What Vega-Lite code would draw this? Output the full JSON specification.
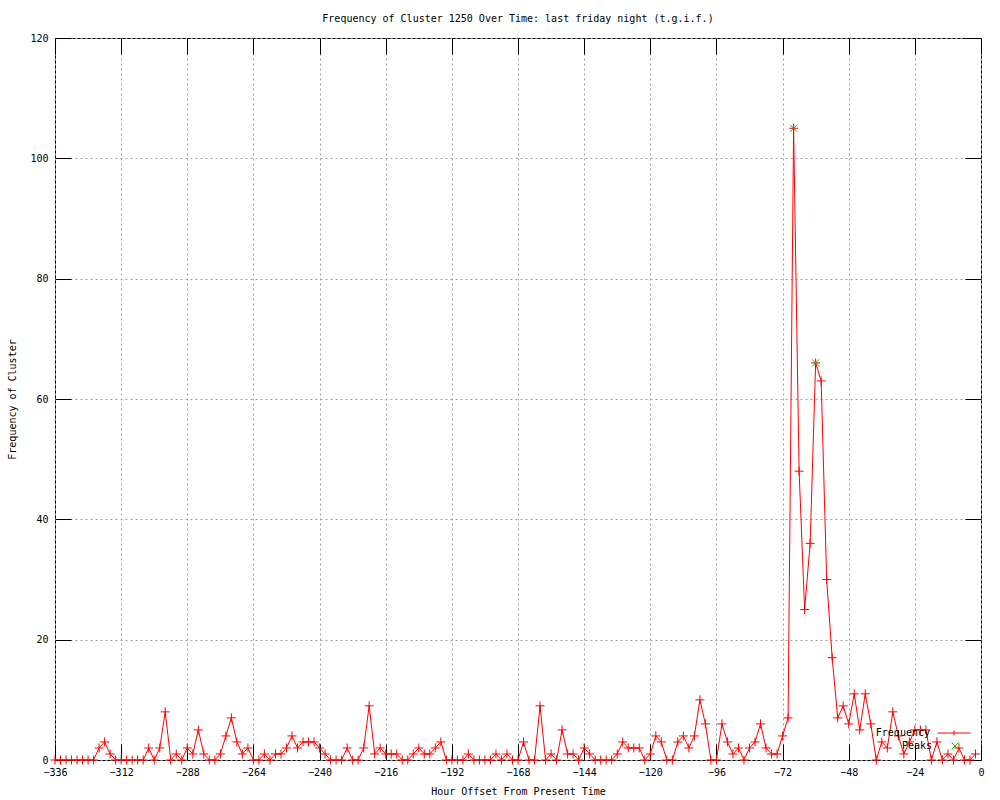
{
  "$schema": "https://vega.github.io/schema/vega-lite/v6.json",
  "autosize": "none",
  "width": 926,
  "height": 722,
  "padding": {"left": 55, "top": 38, "right": 19, "bottom": 40},
  "background": "white",
  "title": {
    "text": "Frequency of Cluster 1250 Over Time: last friday night (t.g.i.f.)",
    "font": "DejaVu Sans Mono",
    "fontSize": 10,
    "fontWeight": "normal",
    "color": "black",
    "anchor": "middle",
    "offset": 9
  },
  "config": {
    "view": {"stroke": "black", "strokeWidth": 1},
    "axis": {
      "labelFont": "DejaVu Sans Mono",
      "labelFontSize": 10,
      "labelColor": "black",
      "titleFont": "DejaVu Sans Mono",
      "titleFontSize": 10,
      "titleFontWeight": "normal",
      "titleColor": "black",
      "tickColor": "black",
      "domain": false,
      "gridColor": "#a0a0a0",
      "gridDash": [2, 3],
      "gridWidth": 1,
      "gridOpacity": 1
    }
  },
  "datasets": {
    "freq": [
      {"hour": -336, "freq": 0}, {"hour": -334, "freq": 0}, {"hour": -332, "freq": 0}, {"hour": -330, "freq": 0},
      {"hour": -328, "freq": 0}, {"hour": -326, "freq": 0}, {"hour": -324, "freq": 0}, {"hour": -322, "freq": 0},
      {"hour": -320, "freq": 2}, {"hour": -318, "freq": 3}, {"hour": -316, "freq": 1}, {"hour": -314, "freq": 0},
      {"hour": -312, "freq": 0}, {"hour": -310, "freq": 0}, {"hour": -308, "freq": 0}, {"hour": -306, "freq": 0},
      {"hour": -304, "freq": 0}, {"hour": -302, "freq": 2}, {"hour": -300, "freq": 0}, {"hour": -298, "freq": 2},
      {"hour": -296, "freq": 8}, {"hour": -294, "freq": 0}, {"hour": -292, "freq": 1}, {"hour": -290, "freq": 0},
      {"hour": -288, "freq": 2}, {"hour": -286, "freq": 1}, {"hour": -284, "freq": 5}, {"hour": -282, "freq": 1},
      {"hour": -280, "freq": 0}, {"hour": -278, "freq": 0}, {"hour": -276, "freq": 1}, {"hour": -274, "freq": 4},
      {"hour": -272, "freq": 7}, {"hour": -270, "freq": 3}, {"hour": -268, "freq": 1}, {"hour": -266, "freq": 2},
      {"hour": -264, "freq": 0}, {"hour": -262, "freq": 0}, {"hour": -260, "freq": 1}, {"hour": -258, "freq": 0},
      {"hour": -256, "freq": 1}, {"hour": -254, "freq": 1}, {"hour": -252, "freq": 2}, {"hour": -250, "freq": 4},
      {"hour": -248, "freq": 2}, {"hour": -246, "freq": 3}, {"hour": -244, "freq": 3}, {"hour": -242, "freq": 3},
      {"hour": -240, "freq": 2}, {"hour": -238, "freq": 1}, {"hour": -236, "freq": 0}, {"hour": -234, "freq": 0},
      {"hour": -232, "freq": 0}, {"hour": -230, "freq": 2}, {"hour": -228, "freq": 0}, {"hour": -226, "freq": 0},
      {"hour": -224, "freq": 2}, {"hour": -222, "freq": 9}, {"hour": -220, "freq": 1}, {"hour": -218, "freq": 2},
      {"hour": -216, "freq": 1}, {"hour": -214, "freq": 1}, {"hour": -212, "freq": 1}, {"hour": -210, "freq": 0},
      {"hour": -208, "freq": 0}, {"hour": -206, "freq": 1}, {"hour": -204, "freq": 2}, {"hour": -202, "freq": 1},
      {"hour": -200, "freq": 1}, {"hour": -198, "freq": 2}, {"hour": -196, "freq": 3}, {"hour": -194, "freq": 0},
      {"hour": -192, "freq": 0}, {"hour": -190, "freq": 0}, {"hour": -188, "freq": 0}, {"hour": -186, "freq": 1},
      {"hour": -184, "freq": 0}, {"hour": -182, "freq": 0}, {"hour": -180, "freq": 0}, {"hour": -178, "freq": 0},
      {"hour": -176, "freq": 1}, {"hour": -174, "freq": 0}, {"hour": -172, "freq": 1}, {"hour": -170, "freq": 0},
      {"hour": -168, "freq": 0}, {"hour": -166, "freq": 3}, {"hour": -164, "freq": 0}, {"hour": -162, "freq": 0},
      {"hour": -160, "freq": 9}, {"hour": -158, "freq": 0}, {"hour": -156, "freq": 1}, {"hour": -154, "freq": 0},
      {"hour": -152, "freq": 5}, {"hour": -150, "freq": 1}, {"hour": -148, "freq": 1}, {"hour": -146, "freq": 0},
      {"hour": -144, "freq": 2}, {"hour": -142, "freq": 1}, {"hour": -140, "freq": 0}, {"hour": -138, "freq": 0},
      {"hour": -136, "freq": 0}, {"hour": -134, "freq": 0}, {"hour": -132, "freq": 1}, {"hour": -130, "freq": 3},
      {"hour": -128, "freq": 2}, {"hour": -126, "freq": 2}, {"hour": -124, "freq": 2}, {"hour": -122, "freq": 0},
      {"hour": -120, "freq": 1}, {"hour": -118, "freq": 4}, {"hour": -116, "freq": 3}, {"hour": -114, "freq": 0},
      {"hour": -112, "freq": 0}, {"hour": -110, "freq": 3}, {"hour": -108, "freq": 4}, {"hour": -106, "freq": 2},
      {"hour": -104, "freq": 4}, {"hour": -102, "freq": 10}, {"hour": -100, "freq": 6}, {"hour": -98, "freq": 0},
      {"hour": -96, "freq": 0}, {"hour": -94, "freq": 6}, {"hour": -92, "freq": 3}, {"hour": -90, "freq": 1},
      {"hour": -88, "freq": 2}, {"hour": -86, "freq": 0}, {"hour": -84, "freq": 2}, {"hour": -82, "freq": 3},
      {"hour": -80, "freq": 6}, {"hour": -78, "freq": 2}, {"hour": -76, "freq": 1}, {"hour": -74, "freq": 1},
      {"hour": -72, "freq": 4}, {"hour": -70, "freq": 7}, {"hour": -68, "freq": 105}, {"hour": -66, "freq": 48},
      {"hour": -64, "freq": 25}, {"hour": -62, "freq": 36}, {"hour": -60, "freq": 66}, {"hour": -58, "freq": 63},
      {"hour": -56, "freq": 30}, {"hour": -54, "freq": 17}, {"hour": -52, "freq": 7}, {"hour": -50, "freq": 9},
      {"hour": -48, "freq": 6}, {"hour": -46, "freq": 11}, {"hour": -44, "freq": 5}, {"hour": -42, "freq": 11},
      {"hour": -40, "freq": 6}, {"hour": -38, "freq": 0}, {"hour": -36, "freq": 3}, {"hour": -34, "freq": 2},
      {"hour": -32, "freq": 8}, {"hour": -30, "freq": 4}, {"hour": -28, "freq": 1}, {"hour": -26, "freq": 3},
      {"hour": -24, "freq": 5}, {"hour": -22, "freq": 5}, {"hour": -20, "freq": 5}, {"hour": -18, "freq": 0},
      {"hour": -16, "freq": 3}, {"hour": -14, "freq": 0}, {"hour": -12, "freq": 1}, {"hour": -10, "freq": 0},
      {"hour": -8, "freq": 2}, {"hour": -6, "freq": 0}, {"hour": -4, "freq": 0}, {"hour": -2, "freq": 1}
    ],
    "peaks": [
      {"hour": -68, "freq": 105},
      {"hour": -60, "freq": 66}
    ]
  },
  "layer": [
    {
      "data": {"name": "freq"},
      "mark": {"type": "line", "color": "#ff0000", "strokeWidth": 1, "clip": true},
      "encoding": {
        "x": {
          "field": "hour", "type": "quantitative",
          "scale": {"domain": [-336, 0], "nice": false, "zero": false},
          "axis": {
            "orient": "bottom",
            "title": "Hour Offset From Present Time",
            "values": [-336, -312, -288, -264, -240, -216, -192, -168, -144, -120, -96, -72, -48, -24, 0],
            "format": "d",
            "tickSize": -16,
            "labelPadding": 23,
            "titlePadding": 9,
            "grid": true,
            "labelFlush": false
          }
        },
        "y": {
          "field": "freq", "type": "quantitative",
          "scale": {"domain": [0, 120], "nice": false},
          "axis": {
            "orient": "left",
            "title": "Frequency of Cluster",
            "values": [0, 20, 40, 60, 80, 100, 120],
            "format": "d",
            "tickSize": -16,
            "labelPadding": 23,
            "titlePadding": 12,
            "grid": true,
            "labelFlush": false
          }
        }
      }
    },
    {
      "data": {"name": "freq"},
      "mark": {"type": "point", "shape": "M-1,0L1,0M0,-1L0,1", "size": 81, "strokeWidth": 1, "filled": false, "opacity": 1},
      "encoding": {
        "x": {"field": "hour", "type": "quantitative", "axis": null},
        "y": {"field": "freq", "type": "quantitative", "axis": null},
        "color": {
          "datum": "Frequency",
          "scale": {"domain": ["Frequency"], "range": ["#ff0000"]},
          "legend": {
            "orient": "none",
            "legendX": 882,
            "legendY": 678,
            "title": null,
            "padding": 0,
            "symbolType": "M-1,0L1,0M0,-0.15L0,0.15",
            "symbolSize": 1089,
            "symbolStrokeWidth": 1,
            "symbolFillColor": "transparent",
            "labelAlign": "right",
            "labelOffset": -41,
            "labelFont": "DejaVu Sans Mono",
            "labelFontSize": 10,
            "labelColor": "black"
          }
        }
      }
    },
    {
      "data": {"name": "peaks"},
      "mark": {"type": "point", "size": 49, "strokeWidth": 1, "filled": false, "opacity": 1, "color": "#00c000"},
      "encoding": {
        "x": {
          "field": "hour", "type": "quantitative",
          "axis": {"orient": "top", "title": null, "labels": false, "grid": false, "tickSize": -16,
            "values": [-336, -312, -288, -264, -240, -216, -192, -168, -144, -120, -96, -72, -48, -24, 0]}
        },
        "y": {
          "field": "freq", "type": "quantitative",
          "axis": {"orient": "right", "title": null, "labels": false, "grid": false, "tickSize": -16,
            "values": [0, 20, 40, 60, 80, 100, 120]}
        },
        "shape": {
          "datum": "Peaks",
          "scale": {"domain": ["Peaks"], "range": ["M-1,-1L1,1M-1,1L1,-1"]},
          "legend": {
            "orient": "none",
            "legendX": 895,
            "legendY": 703,
            "title": null,
            "padding": 0,
            "symbolSize": 49,
            "symbolStrokeWidth": 1,
            "symbolStrokeColor": "#00c000",
            "symbolFillColor": "transparent",
            "labelAlign": "right",
            "labelOffset": -28,
            "labelFont": "DejaVu Sans Mono",
            "labelFontSize": 10,
            "labelColor": "black"
          }
        }
      }
    }
  ],
  "resolve": {"axis": {"x": "independent", "y": "independent"}}
}
